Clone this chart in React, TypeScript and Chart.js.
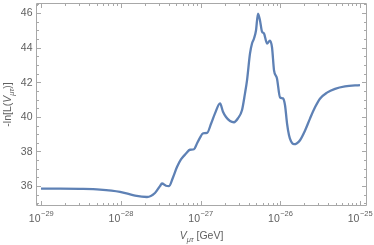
import React, { useEffect, useRef } from 'react';
import { Chart, registerables } from 'chart.js';

Chart.register(...registerables);

// log10 of V_{mu tau} in GeV
const logV = [
  -29.0, -28.762, -28.511, -28.26, -28.009, -27.821, -27.671, -27.571, -27.508, -27.483,
  -27.433, -27.395, -27.345, -27.295, -27.245, -27.182, -27.132, -27.082, -27.044, -27.006,
  -26.969, -26.918, -26.868, -26.818, -26.755, -26.718, -26.68, -26.63, -26.58, -26.53,
  -26.48, -26.442, -26.417, -26.379, -26.354, -26.329, -26.304, -26.279, -26.254, -26.229,
  -26.204, -26.166, -26.129, -26.103, -26.078, -26.041, -26.003, -25.966, -25.94, -25.915,
  -25.89, -25.865, -25.828, -25.79, -25.752, -25.69, -25.627, -25.564, -25.502, -25.414,
  -25.313, -25.188, -25.0,
];
// -ln L values
const negLnL = [
  35.85, 35.85, 35.84, 35.8, 35.67, 35.45, 35.37, 35.6, 36.0, 36.15,
  36.02, 36.0, 36.5, 37.1, 37.54, 37.88, 38.1, 38.13, 38.46, 38.8,
  39.05, 39.07, 39.6, 40.2, 40.78, 40.3, 39.99, 39.76, 39.69, 39.92,
  40.38, 41.36, 42.1, 43.67, 44.24, 44.53, 44.99, 45.97, 45.57, 44.93,
  44.82, 44.24, 44.41, 44.01, 42.69, 42.22, 41.13, 41.07, 40.67, 39.63,
  38.94, 38.59, 38.42, 38.48, 38.65, 39.2, 39.9, 40.55, 41.05, 41.4,
  41.62, 41.76, 41.84,
];

const xDecades = [-29, -28, -27, -26, -25];
const xDecadeLabels = ['\u221229', '\u221228', '\u221227', '\u221226', '\u221225'];
const yMajorTicks = [36, 38, 40, 42, 44, 46];
const yMinorStep = 0.5;
const xRange = [-29.063, -24.912];
const yRange = [34.85, 46.58];

const FRAME = '#a8a8a8';
const LABEL = '#606060';
const FONT = '"Liberation Sans", Arial, sans-serif';

const framePlugin = {
  id: 'mmaFrame',
  afterDraw(chart: any) {
    const { ctx, chartArea } = chart;
    const xs = chart.scales.x;
    const ys = chart.scales.y;
    const { left, right, top, bottom } = chartArea;
    ctx.save();
    ctx.strokeStyle = FRAME;
    ctx.lineWidth = 1;
    const L = Math.round(left) + 0.5, R = Math.round(right) - 0.5;
    const T = Math.round(top) + 0.5, B = Math.round(bottom) - 0.5;
    ctx.beginPath();
    ctx.rect(L, T, R - L, B - T);
    ctx.stroke();

    const xTick = (v: number, len: number) => {
      const px = Math.round(xs.getPixelForValue(v)) + 0.5;
      ctx.beginPath();
      ctx.moveTo(px, B); ctx.lineTo(px, B - len);
      ctx.moveTo(px, T); ctx.lineTo(px, T + len);
      ctx.stroke();
    };
    const yTick = (v: number, len: number) => {
      const py = Math.round(ys.getPixelForValue(v)) + 0.5;
      ctx.beginPath();
      ctx.moveTo(L, py); ctx.lineTo(L + len, py);
      ctx.moveTo(R, py); ctx.lineTo(R - len, py);
      ctx.stroke();
    };
    // x ticks
    for (let d = -30; d <= -25; d++) {
      for (let k = 1; k <= 9; k++) {
        const v = d + Math.log10(k);
        if (v < xRange[0] || v > xRange[1]) continue;
        xTick(v, k === 1 ? 4.5 : 2.5);
      }
    }
    // y ticks
    for (let v = Math.ceil(yRange[0] / yMinorStep) * yMinorStep; v <= yRange[1]; v += yMinorStep) {
      const major = yMajorTicks.includes(Math.round(v * 100) / 100);
      yTick(v, major ? 4.5 : 2.5);
    }

    // y labels
    ctx.fillStyle = LABEL;
    ctx.font = `10.5px ${FONT}`;
    ctx.textAlign = 'right';
    ctx.textBaseline = 'middle';
    yMajorTicks.forEach((v) => {
      ctx.fillText(String(v), L - 4, ys.getPixelForValue(v) + 0.5);
    });

    // x labels 10^n
    ctx.textBaseline = 'alphabetic';
    ctx.textAlign = 'left';
    xDecades.forEach((d, i) => {
      const px = xs.getPixelForValue(d);
      ctx.font = `10.5px ${FONT}`;
      const w1 = ctx.measureText('10').width;
      ctx.font = `7.5px ${FONT}`;
      const w2 = ctx.measureText(xDecadeLabels[i]).width;
      const x0 = px - (w1 + w2) / 2;
      ctx.font = `10.5px ${FONT}`;
      ctx.fillText('10', x0, B + 16);
      ctx.font = `7.5px ${FONT}`;
      ctx.fillText(xDecadeLabels[i], x0 + w1 + 0.5, B + 10);
    });

    // titles
    const drawSegs = (segs: any[], cx: number, cy: number) => {
      let total = 0;
      segs.forEach((s) => { ctx.font = s.font; s.w = ctx.measureText(s.t).width; total += s.w; });
      let x = cx - total / 2;
      segs.forEach((s) => {
        ctx.font = s.font;
        ctx.fillText(s.t, x, cy + (s.dy || 0));
        x += s.w;
      });
    };
    ctx.fillStyle = LABEL;
    drawSegs([
      { t: 'V', font: `italic 10.5px ${FONT}` },
      { t: '\u03bc\u03c4', font: `italic 7.5px ${FONT}`, dy: 2.5 },
      { t: ' [GeV]', font: `10.5px ${FONT}` },
    ], (L + R) / 2, 239);

    ctx.save();
    ctx.translate(11, (T + B) / 2);
    ctx.rotate(-Math.PI / 2);
    drawSegs([
      { t: '-ln[L(', font: `10.5px ${FONT}` },
      { t: 'V', font: `italic 10.5px ${FONT}` },
      { t: '\u03bc\u03c4', font: `italic 7.5px ${FONT}`, dy: 2.5 },
      { t: ')]', font: `10.5px ${FONT}` },
    ], 0, 0);
    ctx.restore();
    ctx.restore();
  },
};

export default function App() {
  const ref = useRef<HTMLCanvasElement | null>(null);
  useEffect(() => {
    if (!ref.current) return;
    const chart = new Chart(ref.current, {
      type: 'line',
      data: {
        datasets: [
          {
            data: logV.map((x, i) => ({ x, y: negLnL[i] })),
            borderColor: '#5E81B5',
            borderWidth: 2.3,
            pointRadius: 0,
            cubicInterpolationMode: 'monotone',
            fill: false,
          },
        ],
      },
      options: {
        animation: false,
        responsive: false,
        maintainAspectRatio: false,
        layout: { padding: { left: 36, right: 7, top: 3, bottom: 39 } },
        plugins: { legend: { display: false }, tooltip: { enabled: false } },
        scales: {
          x: { type: 'linear', min: xRange[0], max: xRange[1], display: false },
          y: { type: 'linear', min: yRange[0], max: yRange[1], display: false },
        },
      },
      plugins: [framePlugin],
    } as any);
    return () => chart.destroy();
  }, []);
  return (
    <div style={{ position: 'fixed', left: 0, top: 0, width: 374, height: 245, background: '#fff' }}>
      <canvas ref={ref} width={374} height={245} style={{ width: 374, height: 245, display: 'block' }} />
    </div>
  );
}
